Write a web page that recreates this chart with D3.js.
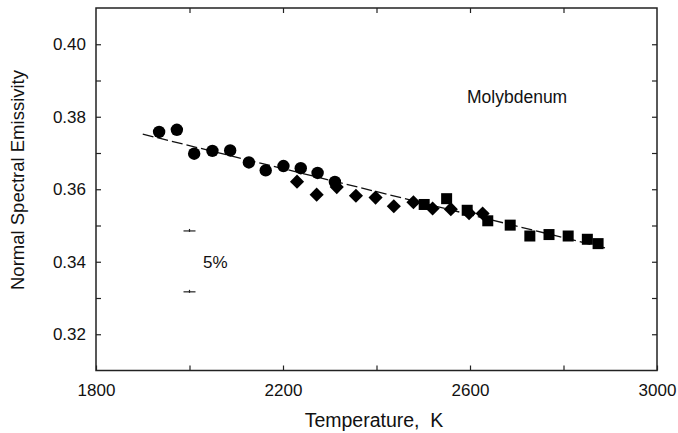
<!DOCTYPE html>
<html>
<head>
<meta charset="utf-8">
<script src="https://cdn.jsdelivr.net/npm/d3@7"></script>
<style>
  body { margin: 0; background: #fff; }
  svg text { font-family: "Liberation Sans", Arial, sans-serif; fill: #111; }
</style>
</head>
<body>
<svg id="chart" width="678" height="433"></svg>
<script>
// circles
const circT = [1935, 1973, 2010, 2049, 2087, 2127, 2163, 2201, 2238, 2274, 2311];
const circE = [0.3758, 0.3764, 0.3698, 0.3706, 0.3707, 0.3674, 0.3652, 0.3664, 0.3658, 0.3645, 0.3620];
// diamonds
const diaT = [2230, 2272, 2315, 2356, 2398, 2437, 2479, 2520, 2559, 2598, 2627];
const diaE = [0.3621, 0.3585, 0.3606, 0.3582, 0.3577, 0.3553, 0.3564, 0.3547, 0.3545, 0.3534, 0.3533];
// squares
const sqT = [2502, 2550, 2594, 2638, 2686, 2728, 2769, 2810, 2851, 2874];
const sqE = [0.3558, 0.3574, 0.3542, 0.3513, 0.3501, 0.3471, 0.3475, 0.3471, 0.3462, 0.3450];
// fit line
const fitT = [1900, 2890];
const fitE = [0.3752, 0.3438];
// 5% bar
const errT = [2000];
const errHi = [0.3485];
const errLo = [0.3317];

const xTicks = [1800, 2000, 2200, 2400, 2600, 2800, 3000];
const xLabels = [1800, 2200, 2600, 3000];
const yTicks = [0.32, 0.33, 0.34, 0.35, 0.36, 0.37, 0.38, 0.39, 0.40];
const yLabels = [0.32, 0.34, 0.36, 0.38, 0.40];

const mLeft = 96, mRight = 657, mTop = 8, mBottom = 370.5;

let svg = d3.select("#chart");
let x = d3.scaleLinear([1800, 3000], [mLeft, mRight]);
let y = d3.scaleLinear([0.31, 0.41], [mBottom, mTop]);

let fmtX = d => xLabels.includes(d) ? d : "";
let fmtY = d => yLabels.some(v => Math.abs(v - d) < 1e-6) ? d3.format(".2f")(d) : "";

function styleAxis(g) {
    g.select(".domain").remove();
    g.selectAll(".tick line").attr("stroke", "#222").attr("stroke-width", 1.2);
    g.selectAll(".tick text").attr("font-size", 17).attr("fill", "#111");
}

svg.append("g")
    .attr("transform", `translate(0,${mBottom})`)
    .call(d3.axisBottom(x).tickValues(xTicks).tickFormat(fmtX).tickSize(-5).tickPadding(13))
    .call(styleAxis);

svg.append("g")
    .attr("transform", `translate(0,${mTop})`)
    .call(d3.axisTop(x).tickValues(xTicks.slice(1, -1)).tickFormat("").tickSize(-5))
    .call(styleAxis);

svg.append("g")
    .attr("transform", `translate(${mLeft},0)`)
    .call(d3.axisLeft(y).tickValues(yTicks).tickFormat(fmtY).tickSize(-5).tickPadding(10))
    .call(styleAxis);

svg.append("g")
    .attr("transform", `translate(${mRight},0)`)
    .call(d3.axisRight(y).tickValues(yTicks).tickFormat("").tickSize(-5))
    .call(styleAxis);

svg.append("rect")
    .attr("x", mLeft).attr("y", mTop)
    .attr("width", mRight - mLeft).attr("height", mBottom - mTop)
    .attr("fill", "none").attr("stroke", "#222").attr("stroke-width", 1.5);

// fit line
let fit = fitT.map((t, i) => [t, fitE[i]]);
svg.append("path")
    .datum(fit)
    .attr("d", d3.line().x(d => x(d[0])).y(d => y(d[1])))
    .attr("fill", "none")
    .attr("stroke", "#111")
    .attr("stroke-width", 1.3)
    .attr("stroke-dasharray", "11,4");

// markers
svg.append("g").selectAll("path")
    .data(diaT.map((t, i) => [t, diaE[i]]))
    .join("path")
    .attr("d", d3.symbol(d3.symbolSquare, 100))
    .attr("transform", d => `translate(${x(d[0])},${y(d[1])}) rotate(45)`)
    .attr("fill", "#000");

svg.append("g").selectAll("rect")
    .data(sqT.map((t, i) => [t, sqE[i]]))
    .join("rect")
    .attr("x", d => x(d[0]) - 5.5)
    .attr("y", d => y(d[1]) - 5.5)
    .attr("width", 11)
    .attr("height", 11)
    .attr("fill", "#000");

svg.append("g").selectAll("circle")
    .data(circT.map((t, i) => [t, circE[i]]))
    .join("circle")
    .attr("cx", d => x(d[0]))
    .attr("cy", d => y(d[1]))
    .attr("r", 6.2)
    .attr("fill", "#000");

// 5% error bar caps
let caps = svg.append("g").attr("stroke", "#222").attr("stroke-width", 1.2);
errT.forEach((t, i) => {
    [errHi[i], errLo[i]].forEach(v => {
        caps.append("line")
            .attr("x1", x(t) - 6).attr("x2", x(t) + 6)
            .attr("y1", y(v)).attr("y2", y(v));
        caps.append("line")
            .attr("x1", x(t)).attr("x2", x(t))
            .attr("y1", y(v) - 2).attr("y2", y(v) + 1);
    });
});

svg.append("text")
    .attr("x", 203).attr("y", 267.5)
    .attr("font-size", 17)
    .text("5%");

svg.append("text")
    .attr("x", 467).attr("y", 103)
    .attr("font-size", 17.5)
    .text("Molybdenum");

svg.append("text")
    .attr("x", 374).attr("y", 427)
    .attr("text-anchor", "middle")
    .attr("font-size", 19.5)
    .text("Temperature,\u00a0 K");

svg.append("text")
    .attr("transform", "translate(24,180) rotate(-90)")
    .attr("text-anchor", "middle")
    .attr("font-size", 18.5)
    .text("Normal Spectral Emissivity");
</script>
</body>
</html>
